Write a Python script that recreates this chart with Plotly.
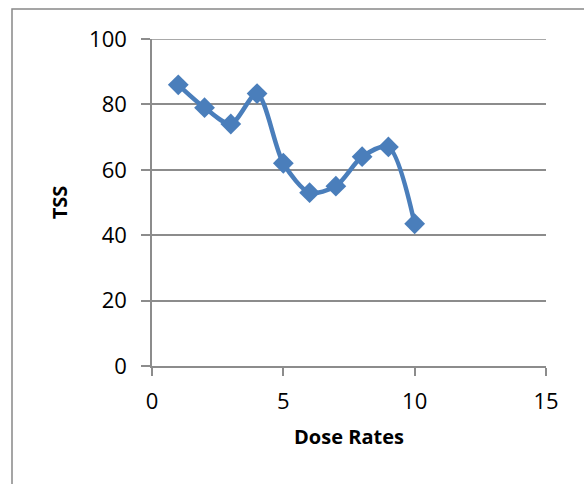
import plotly.graph_objects as go

dose_rates = [1, 2, 3, 4, 5, 6, 7, 8, 9, 10]
tss = [86, 79, 74, 83.3, 62, 53, 55, 64, 67, 43.5]
x_ticks = [0, 5, 10, 15]
y_ticks = [0, 20, 40, 60, 80, 100]

color = "#4a7ebb"
grid = "#8c8c8c"

fig = go.Figure()
fig.add_trace(go.Scatter(
    x=dose_rates, y=tss, mode="lines+markers",
    line=dict(color=color, width=4.5, shape="spline", smoothing=0.8),
    marker=dict(symbol="diamond", size=16, color=color),
    showlegend=False,
))

fam = "Open Sans, Liberation Sans, sans-serif"
tickfont = dict(family=fam, size=22, color="#000")

fig.update_layout(
    width=584, height=484,
    margin=dict(l=152, r=38, t=39, b=118),
    paper_bgcolor="white", plot_bgcolor="white",
    font=dict(family=fam, size=20, color="#000"),
    xaxis=dict(
        range=[0, 15], tickvals=x_ticks, showgrid=False, zeroline=False,
        showline=True, linecolor=grid, linewidth=1.5,
        ticks="outside", ticklen=8, tickcolor=grid, tickwidth=1.5,
        ticklabelstandoff=7, tickfont=tickfont,
        title=dict(text="<b>Dose Rates</b>", font=dict(family=fam, size=20), standoff=16),
    ),
    yaxis=dict(
        range=[0, 100], tickvals=y_ticks, showgrid=True, gridcolor=grid, gridwidth=1.5,
        zeroline=False, showline=True, linecolor=grid, linewidth=1.5,
        ticks="outside", ticklen=9, tickcolor=grid, tickwidth=1.5,
        ticklabelstandoff=10, tickfont=tickfont,
        title=dict(text="<b>TSS</b>", font=dict(family=fam, size=20), standoff=16),
    ),
    shapes=[
        dict(
            type="rect", xref="paper", yref="paper",
            x0=(12 - 152) / 394, x1=1.3, y0=-0.6, y1=(366 - 9) / 327,
            line=dict(color="#888888", width=1.5), fillcolor="rgba(0,0,0,0)", layer="below",
        ),
        dict(
            type="line", xref="paper", yref="y", x0=0, x1=1, y0=y_ticks[-1], y1=y_ticks[-1],
            line=dict(color=grid, width=1.5), layer="below",
        ),
    ],
)

fig.write_html("out.html")
